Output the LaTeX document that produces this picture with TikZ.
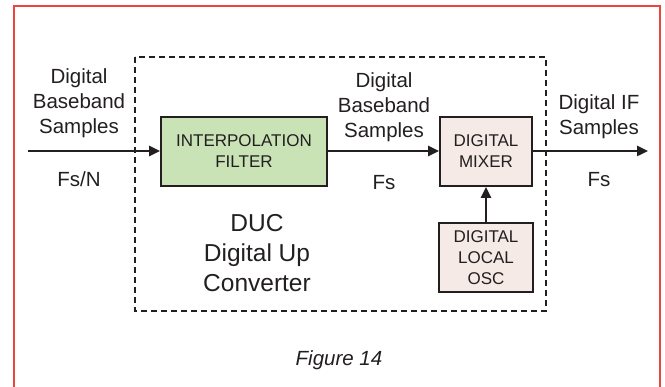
\documentclass[tikz,border=0pt]{standalone}
\usepackage{fontspec}
\setmainfont{Liberation Sans}
\usetikzlibrary{arrows.meta}
\definecolor{linec}{HTML}{231F20}
\definecolor{greenfill}{HTML}{C9E3B6}
\definecolor{pinkfill}{HTML}{F5EAE6}
\definecolor{redframe}{HTML}{EE443E}
\tikzset{
  blockbox/.style={draw=linec, line width=1.6pt, text=linec, align=center,
    inner sep=0pt, font=\fontsize{17}{21}\selectfont},
  sig/.style={draw=linec, line width=2.4pt, -{Triangle[length=11pt,width=10pt]}},
  lbl/.style={text=linec, align=center, inner sep=0pt, font=\fontsize{20.5}{25}\selectfont},
  biglbl/.style={text=linec, align=center, inner sep=0pt, font=\fontsize{24.5}{30}\selectfont},
}
\begin{document}
\begin{tikzpicture}[x=1pt,y=-1pt]
\useasboundingbox (0,0) rectangle (665,387);
\draw[redframe, line width=1.3pt] (14,395) -- (14,6) -- (660,6) -- (660,395);
\draw[linec, line width=1.5pt, dash pattern=on 6pt off 4pt] (135,57) rectangle (546,311);
\node[blockbox, fill=greenfill, minimum width=166pt, minimum height=69pt] (filt) at (244,151.5) {INTERPOLATION\\FILTER};
\node[blockbox, fill=pinkfill, minimum width=92pt, minimum height=69pt] (mix) at (486,151.5) {DIGITAL\\MIXER};
\node[blockbox, fill=pinkfill, minimum width=94pt, minimum height=69pt] (osc) at (486,257.5) {DIGITAL\\LOCAL\\OSC};
\coordinate (in) at (28,151);
\coordinate (out) at (648,151);
\draw[sig] (in) -- (filt.west |- in);
\draw[sig] (filt.east |- in) -- (mix.west |- in);
\draw[sig] (mix.east |- out) -- (out);
\draw[sig] (osc.north) -- (mix.south);
\node[lbl] (l1) at (79,103) {Digital\\Baseband\\Samples};
\node[lbl] (l2) at (79,179) {Fs/N};
\node[lbl] (m1) at (384,107) {Digital\\Baseband\\Samples};
\node[lbl] (m2) at (384,183) {Fs};
\node[lbl] (r1) at (599,117) {Digital IF\\Samples};
\node[lbl] (r2) at (599,180) {Fs};
\node[biglbl] (duc) at (257,253) {DUC\\Digital Up\\Converter};
\node[lbl, font=\fontsize{20.5}{25}\selectfont\itshape] (fig) at (339,360) {Figure 14};
\end{tikzpicture}
\end{document}
